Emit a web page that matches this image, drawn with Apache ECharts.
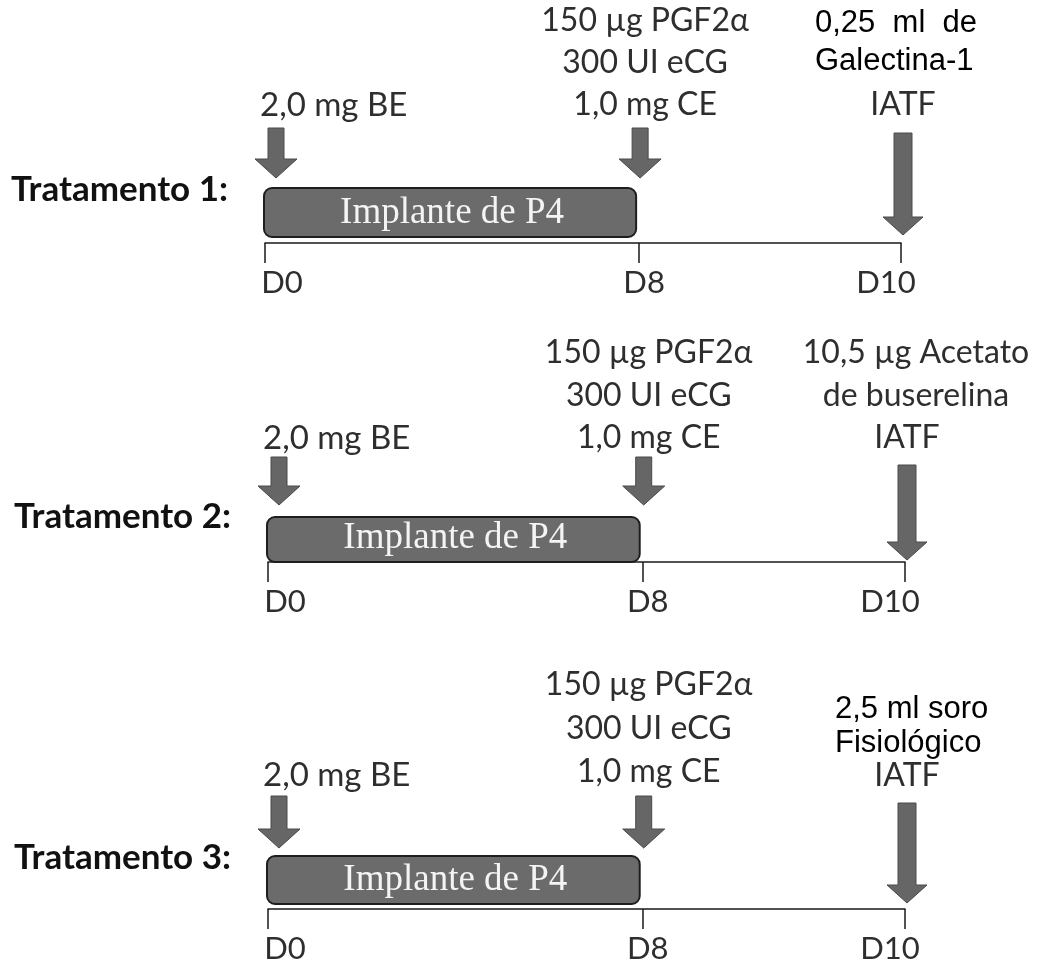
<!DOCTYPE html>
<html><head><meta charset="utf-8">
<script src="https://cdn.jsdelivr.net/npm/echarts@6/dist/echarts.min.js"></script>
<style>html,body{margin:0;padding:0;background:#fff}#c{width:1041px;height:964px}</style>
</head><body><div id="c"></div>
<script>
// ---------------- data ----------------
const dayLabels = ['D0', 'D8', 'D10'];
const timelinePos = [0, 10, 17];            // schematic place of each day on the drawn timeline
const treatments = ['Tratamento 1:', 'Tratamento 2:', 'Tratamento 3:'];
const implantFrom = 0, implantTo = 1;       // implant runs from D0 to D8 (indices into dayLabels)
const implantLabel = 'Implante de P4';
const d0Doses = ['2,0 mg BE'];
const d8Doses = ['150 µg PGF2α', '300 UI eCG', '1,0 mg CE'];
const d10Doses = [['0,25  ml  de', 'Galectina-1'], ['10,5 µg Acetato', 'de buserelina'], ['2,5 ml soro', 'Fisiológico']];
const d10Event = 'IATF';

// ---------------- layout / style ----------------
const CAL = 'Lato', ARI = 'Liberation Sans, Arial', SER = 'Liberation Serif, Times New Roman';
const midK = {Lato: 0.387, Ari: 0.3465, Ser: 0.3375};
const panels = [
  {axisY: 243, left: 265, right: 140, bar: [-55, -6], shortA: [-115, -65], longA: [-110, -8], trat: -40,
   be: -125, d8: [-210, -168, -126], d10: [-209, -171], iatf: -126, d10Font: 'Ari', d10Align: 'left', d10X: 815, d10Size: 31},
  {axisY: 562, left: 268, right: 136, bar: [-45, 0], shortA: [-105, -57], longA: [-97, -2], trat: -32,
   be: -111, d8: [-197, -154, -112], d10: [-197, -154], iatf: -112, d10Font: 'Lato', d10Align: 'center', d10X: 916, d10Size: 32},
  {axisY: 913, left: 268, right: 136, bar: [-53, -5], shortA: [-113, -61], longA: [-106, -6], trat: -38,
   be: -121, d8: [-212, -168, -125], d10: [-189, -155], iatf: -121, d10Font: 'Ari', d10Align: 'left', d10X: 835, d10Size: 31}
];
const FS = 32;

function txt(text, x, baseline, fam, size, opts) {
  opts = opts || {};
  const family = fam === 'Lato' ? CAL : (fam === 'Ari' ? ARI : SER);
  return {
    type: 'text',
    style: {
      text: text, x: x, y: baseline - midK[fam] * size,
      align: opts.align || 'center', verticalAlign: 'middle',
      font: (opts.weight || 'normal') + ' ' + size + 'px ' + family,
      fill: opts.color || '#2e2e2e'
    }
  };
}

function arrow(cx, top, tip, sw, hw, hh) {
  return {
    type: 'polygon',
    shape: {points: [[cx - sw / 2, top], [cx + sw / 2, top], [cx + sw / 2, tip - hh], [cx + hw / 2, tip - hh],
      [cx, tip], [cx - hw / 2, tip - hh], [cx - sw / 2, tip - hh]]},
    style: {fill: '#666666', stroke: '#4a4a4a', lineWidth: 1}
  };
}

const grids = [], xAxes = [], yAxes = [], series = [];
panels.forEach((P, i) => {
  grids.push({left: P.left, right: P.right, top: P.axisY - 200, height: 200});
  xAxes.push({
    type: 'value', gridIndex: i, min: timelinePos[0], max: timelinePos[timelinePos.length - 1],
    axisLine: {show: true, onZero: false, lineStyle: {color: '#1a1a1a', width: 1.5}},
    axisTick: {show: true, customValues: timelinePos, length: 20, lineStyle: {color: '#1a1a1a', width: 1.5}},
    axisLabel: {
      customValues: timelinePos, margin: 24, color: '#2e2e2e', fontFamily: CAL, fontSize: 31,
      formatter: v => { const k = timelinePos.indexOf(v); return '{r' + k + '|' + dayLabels[k] + '}'; },
      rich: {r0: {padding: [0, 0, 0, 34]}, r1: {padding: [0, 0, 0, 10]}, r2: {padding: [0, 30, 0, 0]}}
    },
    splitLine: {show: false}
  });
  yAxes.push({type: 'value', gridIndex: i, min: 0, max: 1, show: false});

  // implant bar + treatment name
  series.push({
    type: 'custom', xAxisIndex: i, yAxisIndex: i, clip: false, silent: true,
    data: [[timelinePos[implantFrom], timelinePos[implantTo]]],
    renderItem: (params, api) => {
      const a = api.coord([api.value(0), 0]), b = api.coord([api.value(1), 0]);
      const y0 = a[1] + P.bar[0], y1 = a[1] + P.bar[1];
      return {type: 'group', children: [
        {type: 'rect', shape: {x: a[0] - 1, y: y0, width: b[0] - a[0] - 2, height: y1 - y0, r: 8},
         style: {fill: '#6b6b6b', stroke: '#1e1e1e', lineWidth: 2}},
        txt(implantLabel, (a[0] + b[0]) / 2, y1 - 11, 'Ser', 37, {color: '#f4f4f4'}),
        txt(treatments[i], a[0] - 37, a[1] + P.trat, 'Lato', 35, {align: 'right', weight: 'bold', color: '#111'})
      ]};
    }
  });

  // events: arrows + doses
  series.push({
    type: 'custom', xAxisIndex: i, yAxisIndex: i, clip: false, silent: true,
    data: timelinePos.map((p, k) => [p, k]),
    renderItem: (params, api) => {
      const k = api.value(1);
      const c = api.coord([api.value(0), 0]);
      const ay = c[1];
      const ch = [];
      if (k === 0) {
        ch.push(arrow(c[0] + 11, ay + P.shortA[0], ay + P.shortA[1], 16, 42, 19));
        ch.push(txt(d0Doses[0], c[0] - 5, ay + P.be, 'Lato', FS + 1, {align: 'left'}));
      } else if (k === 1) {
        ch.push(arrow(c[0] + 1, ay + P.shortA[0], ay + P.shortA[1], 16, 42, 19));
        d8Doses.forEach((t, j) => ch.push(txt(t, c[0] + 6, ay + P.d8[j], 'Lato', FS)));
      } else {
        ch.push(arrow(c[0] + 2, ay + P.longA[0], ay + P.longA[1], 18, 40, 18));
        d10Doses[i].forEach((t, j) => ch.push(txt(t, P.d10X, ay + P.d10[j], P.d10Font,
          P.d10Size, {align: P.d10Align, color: P.d10Font === 'Ari' ? '#000' : '#2e2e2e'})));
        ch.push(txt(d10Event, c[0] + 2, ay + P.iatf, 'Lato', FS));
      }
      return {type: 'group', children: ch};
    }
  });
});

const chart = echarts.init(document.getElementById('c'), null, {renderer: 'canvas'});
chart.setOption({
  backgroundColor: '#ffffff',
  animation: false,
  grid: grids, xAxis: xAxes, yAxis: yAxes, series: series
});
</script>
</body></html>
